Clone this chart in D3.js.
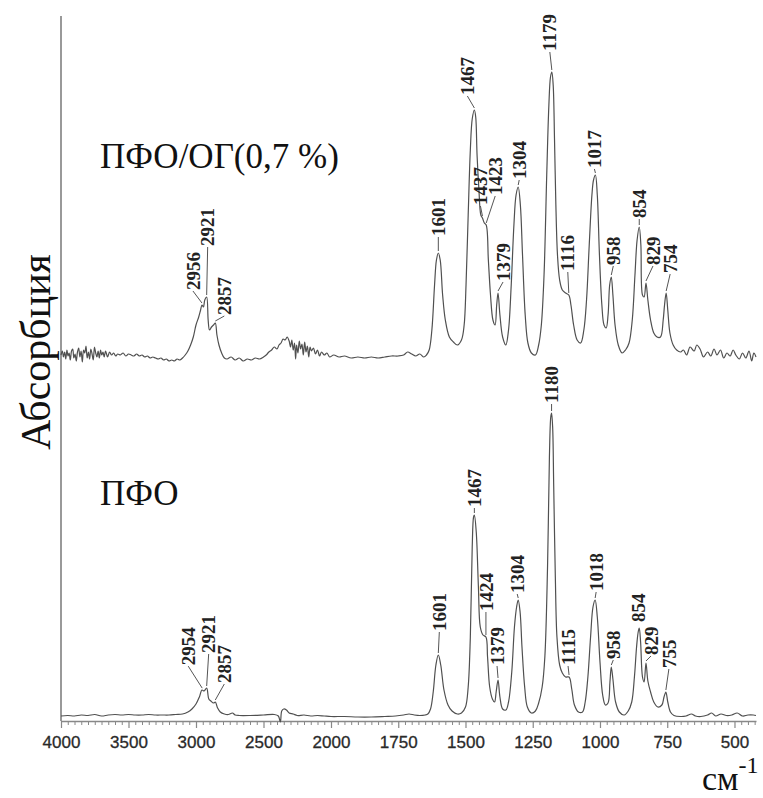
<!DOCTYPE html>
<html>
<head>
<meta charset="utf-8">
<script src="https://cdn.jsdelivr.net/npm/d3@7"></script>
<style>
  body { margin: 0; background: #fff; }
  svg { display: block; }
</style>
</head>
<body>
<div id="chart"></div>
<script>
// wavenumber (cm-1), absorbance (arb. units above each trace's own baseline)
const pfoGoSpectrum = [
  [4000, 0], [3990, 4], [3982, -2], [3973, 3], [3965, -4], [3956, 5], [3948, -1], [3940, 2],
  [3931, -5], [3922, 4], [3913, 6], [3905, -3], [3896, 1], [3887, -6], [3878, 3], [3869, 7],
  [3860, -2], [3851, 4], [3842, -7], [3833, 5], [3824, 2], [3815, 9], [3806, -3], [3797, 3],
  [3788, -4], [3779, 6], [3770, 1], [3761, -5], [3752, 8], [3743, 2], [3734, -2], [3725, 4],
  [3716, -3], [3707, 5], [3698, 0], [3689, 3], [3680, -2], [3670, 4], [3655, -2], [3640, 3],
  [3625, 0], [3610, 2], [3595, -1], [3580, 1], [3560, 0], [3540, 2], [3520, -1], [3500, 1],
  [3480, 0], [3460, -1], [3440, 1], [3420, -1], [3400, 0], [3380, -2], [3360, -1], [3340, -3],
  [3320, -2], [3300, -3], [3280, -4], [3260, -3], [3240, -5], [3220, -4], [3200, -6], [3180, -5],
  [3160, -6], [3140, -4], [3120, -5], [3100, -3], [3080, 0], [3060, 4], [3040, 10], [3020, 18],
  [3000, 30], [2980, 38], [2966, 45], [2956, 50], [2945, 48], [2935, 55], [2921, 58], [2910, 35],
  [2900, 25], [2885, 28], [2870, 30], [2857, 32], [2845, 20], [2830, 10], [2810, 2], [2790, -3],
  [2770, -4], [2740, -2], [2710, -5], [2680, -3], [2650, -6], [2620, -4], [2590, -5], [2560, -3],
  [2530, -4], [2500, -2], [2480, 0], [2460, 3], [2440, 5], [2420, 8], [2400, 6], [2385, 10],
  [2370, 12], [2355, 16], [2340, 15], [2325, 18], [2310, 14], [2300, 8], [2290, 15], [2280, 5],
  [2270, 12], [2262, -4], [2255, 10], [2245, 2], [2235, 14], [2225, 6], [2215, 11], [2205, 0],
  [2195, 13], [2185, 3], [2175, 9], [2165, -2], [2155, 8], [2145, 4], [2130, 7], [2115, 1],
  [2100, 5], [2085, -1], [2070, 3], [2050, 0], [2030, 2], [2010, -2], [1990, 0], [1970, -2],
  [1950, -1], [1925, -3], [1900, -2], [1875, -3], [1850, -2], [1825, -3], [1800, -2], [1775, -1],
  [1750, -1], [1730, 0], [1715, 3], [1700, 1], [1685, -1], [1670, 1], [1655, -2], [1645, 0],
  [1635, 5], [1625, 25], [1615, 70], [1608, 95], [1601, 102], [1594, 95], [1585, 60], [1575, 35],
  [1560, 18], [1545, 13], [1530, 10], [1515, 15], [1505, 30], [1498, 70], [1490, 140], [1482, 205],
  [1475, 236], [1467, 245], [1462, 238], [1457, 200], [1450, 165], [1443, 140], [1437, 137], [1430, 132],
  [1423, 130], [1415, 95], [1407, 60], [1398, 35], [1390, 30], [1384, 50], [1379, 62], [1372, 40],
  [1362, 18], [1350, 10], [1340, 25], [1330, 70], [1320, 130], [1312, 160], [1304, 168], [1296, 150],
  [1288, 100], [1278, 40], [1268, 12], [1255, 2], [1240, 0], [1228, 10], [1218, 30], [1208, 80],
  [1198, 180], [1190, 250], [1184, 278], [1179, 283], [1174, 270], [1169, 215], [1164, 150], [1158, 100],
  [1150, 75], [1140, 65], [1128, 62], [1116, 60], [1108, 50], [1098, 30], [1085, 15], [1072, 12],
  [1060, 25], [1050, 55], [1040, 110], [1030, 160], [1024, 175], [1017, 180], [1010, 160], [1002, 100],
  [993, 50], [985, 30], [977, 27], [970, 40], [964, 70], [958, 78], [952, 60], [944, 30],
  [932, 10], [918, 2], [905, 5], [892, 12], [880, 35], [870, 80], [862, 115], [854, 128],
  [848, 110], [842, 60], [836, 58], [829, 72], [822, 55], [812, 35], [800, 22], [788, 18],
  [775, 18], [765, 35], [760, 50], [754, 62], [748, 45], [740, 22], [728, 10], [715, 5],
  [700, 3], [690, 5], [678, 0], [665, 8], [650, 4], [640, 10], [628, 6], [615, -2],
  [600, 3], [588, -1], [576, 6], [565, 0], [552, 5], [540, -3], [528, 2], [516, -1],
  [505, 5], [495, 0], [482, -4], [470, 2], [458, -3], [446, 4], [436, -6], [428, 2],
  [420, -2]
];

const pfoSpectrum = [
  [4000, 1], [3950, 1.5], [3900, 1], [3850, 2], [3800, 1.5], [3750, 2.5], [3700, 1], [3650, 2],
  [3600, 2.5], [3550, 2], [3500, 2.5], [3450, 2], [3400, 2], [3350, 2.5], [3300, 2], [3250, 2],
  [3200, 2], [3150, 2.5], [3100, 3], [3060, 5], [3030, 8], [3000, 13], [2975, 20], [2956, 27],
  [2940, 26], [2921, 29], [2905, 18], [2890, 16], [2870, 14], [2857, 15], [2840, 9], [2820, 5],
  [2790, 3], [2760, 2.5], [2730, 4], [2710, 2], [2680, 1.5], [2600, 1.5], [2500, 2], [2420, 2.5],
  [2390, 1], [2375, -5], [2365, 6], [2350, 8], [2330, 7], [2310, 4], [2280, 3], [2250, 1.5],
  [2200, 2], [2150, 1], [2100, 1.5], [2050, 1], [2000, 0.5], [1950, 0.5], [1900, 0], [1850, 0],
  [1800, 0.5], [1760, 1], [1730, 2], [1710, 3], [1690, 2], [1670, 1.5], [1650, 2], [1640, 3],
  [1630, 8], [1620, 25], [1610, 52], [1601, 62], [1592, 52], [1580, 27], [1565, 12], [1550, 6],
  [1530, 3], [1515, 4], [1500, 10], [1490, 30], [1482, 80], [1475, 170], [1470, 200], [1467, 202],
  [1460, 185], [1452, 130], [1445, 90], [1435, 82], [1424, 80], [1418, 60], [1410, 30], [1400, 18],
  [1392, 15], [1386, 25], [1379, 37], [1372, 20], [1362, 8], [1350, 7], [1340, 15], [1328, 45],
  [1318, 90], [1310, 110], [1304, 117], [1297, 105], [1290, 70], [1280, 30], [1270, 10], [1255, 4],
  [1240, 6], [1228, 14], [1215, 30], [1205, 60], [1195, 150], [1188, 260], [1183, 300], [1180, 304],
  [1176, 290], [1172, 230], [1166, 140], [1160, 80], [1150, 52], [1140, 44], [1128, 40], [1115, 40],
  [1105, 28], [1095, 12], [1080, 5], [1065, 5], [1055, 15], [1045, 40], [1035, 80], [1026, 110],
  [1018, 117], [1010, 100], [1000, 55], [990, 22], [980, 12], [970, 14], [963, 35], [958, 50],
  [952, 38], [942, 15], [928, 5], [910, 2], [895, 6], [882, 15], [872, 40], [864, 70],
  [858, 85], [854, 89], [849, 75], [842, 40], [836, 35], [829, 54], [822, 36], [812, 25],
  [800, 15], [785, 10], [770, 12], [762, 20], [755, 25], [748, 15], [738, 5], [725, 1.5],
  [700, 0.5], [680, 1], [660, 3], [645, 1], [625, 0.5], [600, 2], [585, 4], [570, 1],
  [550, 3], [530, 1.5], [510, 2], [490, 4], [470, 1], [450, 2], [430, 2], [420, 1.5]
];

const pfoGoPeaks = [2956, 2921, 2857, 1601, 1467, 1437, 1423, 1379, 1304, 1179, 1116, 1017, 958, 854, 829, 754];
const pfoPeaks = [2954, 2921, 2857, 1601, 1467, 1424, 1379, 1304, 1180, 1115, 1018, 958, 854, 829, 755];

const xTickValues = [4000, 3500, 3000, 2500, 2000, 1750, 1500, 1250, 1000, 750, 500];
const seriesNames = ["ПФО/ОГ(0,7 %)", "ПФО"];

// label placement: [dx from peak, gap above peak]
const pfoGoLabelLayout = {
  2956: [-9, 13], 2921: [1, 49], 2857: [9, 6], 1601: [0, 15], 1467: [-7, 13], 1437: [-2, 11],
  1423: [9, 28], 1379: [5, 10], 1304: [1, 6], 1179: [-2, 19], 1116: [-1, 22], 1017: [-1, 5],
  958: [2, 10], 854: [0, 7], 829: [7, 16], 754: [4, 18]
};
const pfoLabelLayout = {
  2954: [-14, 23], 2921: [2, 33], 2857: [9, 17], 1601: [1, 22], 1467: [0, 6], 1424: [0, 24],
  1379: [-1, 13], 1304: [-1, 5], 1180: [0, 8], 1115: [-1, 10], 1018: [1, 7], 958: [2, 6],
  854: [-1, 4], 829: [5, 6], 755: [3, 22]
};

const width = 763, height = 798;
const topOffset = 362;

const x = d3.scaleLinear().domain([4000, 2000, 420]).range([61, 331, 756]);
const y = d3.scaleLinear().domain([0, 700]).range([717, 17]);
const axisY = 721;

const svg = d3.select('#chart').append('svg')
  .attr('width', width).attr('height', height);

// left axis line
svg.append('line')
  .attr('x1', 61).attr('x2', 61).attr('y1', 16).attr('y2', axisY)
  .attr('stroke', '#999').attr('stroke-width', 2);

// bottom axis, major + minor ticks
const minorTicks = d3.range(2050, 4000, 50).concat(d3.range(425, 2000, 25))
  .filter(v => !xTickValues.includes(v));

svg.append('g')
  .attr('transform', `translate(0,${axisY})`)
  .call(d3.axisBottom(x).tickValues(minorTicks).tickSize(4).tickFormat(''))
  .call(g => g.select('.domain').remove())
  .call(g => g.selectAll('line').attr('stroke', '#888'));

svg.append('g')
  .attr('transform', `translate(0,${axisY})`)
  .call(d3.axisBottom(x).tickValues(xTickValues).tickSize(7).tickSizeOuter(0).tickPadding(8).tickFormat(d3.format('d')))
  .call(g => g.select('.domain').attr('stroke', '#888').attr('stroke-width', 1.6))
  .call(g => g.selectAll('line').attr('stroke', '#888').attr('stroke-width', 1.2))
  .call(g => g.selectAll('text')
    .attr('font-family', '"Liberation Sans", Arial, sans-serif')
    .attr('font-size', 17).attr('fill', '#2a2a2a')
    .attr('stroke', '#2a2a2a').attr('stroke-width', 0.3));

function valueAt(data, wn) {
  for (let i = 0; i < data.length - 1; i++) {
    const a = data[i], b = data[i + 1];
    if (wn <= a[0] && wn >= b[0]) {
      const t = (a[0] - wn) / (a[0] - b[0]);
      return a[1] + t * (b[1] - a[1]);
    }
  }
  return 0;
}

function drawTrace(data, offset, peaks, layout) {
  const line = d3.line()
    .x(d => x(d[0]))
    .y(d => y(d[1] + offset))
    .curve(d3.curveCatmullRom.alpha(0.5));

  svg.append('path')
    .datum(data)
    .attr('d', line)
    .attr('fill', 'none')
    .attr('stroke', '#505050')
    .attr('stroke-width', 1.2)
    .attr('stroke-linejoin', 'round');

  const g = svg.append('g');
  peaks.forEach(wn => {
    const [dx, gap] = layout[wn] || [0, 12];
    const px = x(wn);
    const py = y(valueAt(data, wn) + offset);
    const tx = px + dx, ty = py - gap;
    if (gap > 4) {
      g.append('line')
        .attr('x1', tx).attr('y1', ty - 1)
        .attr('x2', px).attr('y2', py - 2)
        .attr('stroke', '#555').attr('stroke-width', 1);
    }
    g.append('text')
      .attr('transform', `translate(${tx},${ty - 2}) rotate(-90)`)
      .attr('dy', '0.35em')
      .attr('text-anchor', 'start')
      .attr('font-family', '"Liberation Serif", "Times New Roman", serif')
      .attr('font-weight', 'bold')
      .attr('font-size', 19)
      .attr('fill', '#222')
      .text(wn);
  });
}

drawTrace(pfoGoSpectrum, topOffset, pfoGoPeaks, pfoGoLabelLayout);
drawTrace(pfoSpectrum, 0, pfoPeaks, pfoLabelLayout);

// series names
const serif = '"Liberation Serif", "Times New Roman", serif';
svg.append('text')
  .attr('x', 100).attr('y', 168)
  .attr('font-family', serif).attr('font-size', 35).attr('fill', '#111')
  .text(seriesNames[0]);
svg.append('text')
  .attr('x', 100).attr('y', 505)
  .attr('font-family', serif).attr('font-size', 35).attr('fill', '#111')
  .text(seriesNames[1]);

// axis titles
svg.append('text')
  .attr('transform', 'translate(50,352) rotate(-90)')
  .attr('text-anchor', 'middle')
  .attr('font-family', serif).attr('font-size', 42).attr('fill', '#111')
  .text('Абсорбция');

const unit = svg.append('text')
  .attr('x', 702).attr('y', 790)
  .attr('font-family', serif).attr('font-size', 34).attr('fill', '#111');
unit.append('tspan').text('см');
unit.append('tspan').attr('dy', -17).attr('font-size', 24).text('-1');
</script>
</body>
</html>
